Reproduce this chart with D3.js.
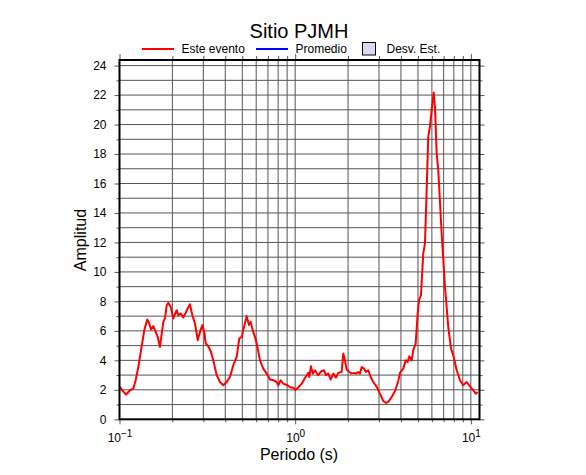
<!DOCTYPE html>
<html>
<head>
<meta charset="utf-8">
<script src="https://cdn.jsdelivr.net/npm/d3@7"></script>
<style>
  body { margin: 0; background: #fff; }
  text { font-family: "Liberation Sans", Arial, Helvetica, sans-serif; }
</style>
</head>
<body>
<svg id="chart"></svg>
<script>
var periods = [0.100,0.1037,0.1089,0.1148,0.1198,0.1236,0.128,0.1326,0.1384,0.1439,
  0.1477,0.1511,0.1557,0.1592,0.165,0.170,0.1739,0.1776,0.1816,0.1856,
  0.1896,0.1956,0.2024,0.207,0.2116,0.2161,0.223,0.2307,0.2381,0.2444,
  0.2519,0.2596,0.269,0.2787,0.2872,0.296,0.3038,0.3094,0.3202,0.3317,
  0.3419,0.3575,0.3733,0.3898,0.4075,0.4255,0.4443,0.4645,0.4806,0.496,
  0.5112,0.5297,0.5458,0.5581,0.5729,0.5905,0.6038,0.6305,0.6583,0.6883,
  0.7189,0.7507,0.7848,0.8014,0.8271,0.8558,0.9016,0.9428,0.9755,1.001,
  1.041,1.089,1.137,1.188,1.203,1.230,1.258,1.296,1.353,1.415,
  1.458,1.497,1.543,1.593,1.648,1.707,1.759,1.839,1.878,1.920,
  1.964,2.032,2.097,2.161,2.219,2.287,2.338,2.391,2.464,2.529,
  2.606,2.690,2.783,2.910,3.039,3.172,3.287,3.388,3.542,3.698,
  3.862,3.950,4.123,4.256,4.369,4.461,4.604,4.702,4.852,4.981,
  5.066,5.200,5.359,5.480,5.603,5.722,5.851,5.983,6.142,6.248,
  6.388,6.523,6.821,7.123,7.438,7.705,7.941,8.304,8.670,9.051,
  9.465,9.883,10.32,10.65,10.93];

var amplitudes = [2.24,1.97,1.68,1.97,2.08,2.65,3.55,4.69,6.05,6.77,
  6.5,6.09,6.32,6.05,5.59,4.91,5.82,6.61,6.86,7.74,
  7.9,7.63,6.84,7.13,7.4,7.07,7.18,6.91,7.22,7.52,
  7.81,7.07,6.5,5.37,5.93,6.39,5.93,5.14,4.96,4.57,
  4.0,2.99,2.53,2.31,2.53,2.87,3.67,4.23,5.48,5.59,
  6.27,7.0,6.39,6.61,6.05,5.59,5.14,4.0,3.44,3.1,
  2.7,2.65,2.53,2.31,2.65,2.42,2.31,2.15,2.15,1.97,
  2.15,2.42,2.8,3.15,2.87,3.6,3.1,3.33,2.99,3.28,
  3.33,2.99,3.1,2.7,3.1,2.83,3.15,3.21,4.46,4.0,
  3.38,3.21,3.1,3.15,3.1,3.21,3.1,3.55,3.44,3.21,
  3.33,2.87,2.53,2.2,1.74,1.24,1.11,1.18,1.51,1.9,
  2.6,3.15,3.44,4.0,3.89,4.28,4.0,4.69,5.14,7.18,
  8.08,8.42,11.26,11.94,15.56,19.18,19.86,20.99,22.17,21.22,
  18.05,16.92,12.62,8.99,6.27,4.8,4.35,3.33,2.65,2.31,
  2.53,2.24,1.97,1.74,1.86];

var xDomain = [0.1, 11.2];
var yDomain = [0, 24.38];
var xMajorExp = [-1, 0, 1];
var yMajor = [0, 2, 4, 6, 8, 10, 12, 14, 16, 18, 20, 22, 24];
var yMinor = [1, 3, 5, 7, 9, 11, 13, 15, 17, 19, 21, 23];
var legendLabels = ["Este evento", "Promedio", "Desv. Est."];

var W = 586, H = 475;
var margin = {top: 60, right: 106.5, bottom: 55.7, left: 119.5};
var width = W - margin.left - margin.right,
    height = H - margin.top - margin.bottom;

var svg = d3.select("#chart").attr("width", W).attr("height", H);
var g = svg.append("g").attr("transform", "translate(" + margin.left + "," + margin.top + ")");

var x = d3.scaleLog().domain(xDomain).range([0, width]);
var y = d3.scaleLinear().domain(yDomain).range([height, 0]);

var xMajor = xMajorExp.map(function(e) { return Math.pow(10, e); });
var xAll = x.ticks();
var xMinor = xAll.filter(function(v) { return xMajor.indexOf(v) < 0; });
var yAll = d3.range(1, 25);

// rejilla
g.append("g").selectAll("line")
  .data(xAll.filter(function(v) { return v > xDomain[0]; }))
  .enter().append("line")
    .attr("x1", function(d) { return x(d); }).attr("x2", function(d) { return x(d); })
    .attr("y1", 0).attr("y2", height)
    .attr("stroke", "#555").attr("stroke-width", 1);

g.append("g").selectAll("line")
  .data(yAll)
  .enter().append("line")
    .attr("x1", 0).attr("x2", width)
    .attr("y1", function(d) { return y(d); }).attr("y2", function(d) { return y(d); })
    .attr("stroke", "#555").attr("stroke-width", 1);

// ticks
function tickAxis(axis, transform) {
  var a = g.append("g").attr("transform", transform || null).call(axis);
  a.select(".domain").remove();
  a.selectAll(".tick line").attr("stroke", "#555");
  return a;
}
tickAxis(d3.axisBottom(x).tickValues(xMinor).tickSize(3).tickFormat(""), "translate(0," + height + ")");
var xb = tickAxis(d3.axisBottom(x).tickValues(xMajor).tickSize(5).tickFormat(""), "translate(0," + height + ")");
tickAxis(d3.axisTop(x).tickValues(xMinor).tickSize(4).tickFormat(""));
tickAxis(d3.axisTop(x).tickValues(xMajor).tickSize(6).tickFormat(""));

tickAxis(d3.axisLeft(y).tickValues(yMinor).tickSize(3).tickFormat(""));
var yl = tickAxis(d3.axisLeft(y).tickValues(yMajor).tickSize(5).tickPadding(8));
tickAxis(d3.axisRight(y).tickValues(yMinor).tickSize(3).tickFormat(""), "translate(" + width + ",0)");
tickAxis(d3.axisRight(y).tickValues(yMajor).tickSize(5).tickFormat(""), "translate(" + width + ",0)");

yl.selectAll(".tick text").attr("font-size", 12).attr("fill", "#000")
  .style("font-family", "'Liberation Sans', Arial, sans-serif");

xb.selectAll(".tick text")
  .attr("y", 22.4).attr("dy", 0).attr("font-size", 12).attr("fill", "#000")
  .style("font-family", "'Liberation Sans', Arial, sans-serif")
  .each(function(d, i) {
    var t = d3.select(this).text(null);
    t.append("tspan").text("10");
    t.append("tspan").attr("dy", -4.5).attr("font-size", 10)
      .text(xMajorExp[i] < 0 ? "\u2212" + Math.abs(xMajorExp[i]) : xMajorExp[i]);
  });

// curva
var pts = periods.map(function(p, i) { return [p, amplitudes[i]]; });
var line = d3.line()
  .x(function(d) { return x(d[0]); })
  .y(function(d) { return y(d[1]); });

g.append("path")
  .datum(pts)
  .attr("d", line)
  .attr("fill", "none")
  .attr("stroke", "#ff0000")
  .attr("stroke-width", 2)
  .attr("stroke-linejoin", "round");

// marco
g.append("rect")
  .attr("width", width).attr("height", height)
  .attr("fill", "none").attr("stroke", "#000").attr("stroke-width", 2);

// titulos
svg.append("text")
  .attr("x", 299).attr("y", 38)
  .attr("text-anchor", "middle").attr("font-size", 20)
  .text("Sitio PJMH");

svg.append("text")
  .attr("x", 299).attr("y", 460)
  .attr("text-anchor", "middle").attr("font-size", 16)
  .text("Periodo (s)");

svg.append("text")
  .attr("transform", "translate(86,240) rotate(-90)")
  .attr("text-anchor", "middle").attr("font-size", 16)
  .text("Amplitud");

// leyenda
var lg = svg.append("g").attr("font-size", 12);
lg.append("line").attr("x1", 142).attr("x2", 174).attr("y1", 49).attr("y2", 49)
  .attr("stroke", "#ff0000").attr("stroke-width", 2);
lg.append("text").attr("x", 181.5).attr("y", 53).text(legendLabels[0]);
lg.append("line").attr("x1", 256).attr("x2", 288).attr("y1", 49).attr("y2", 49)
  .attr("stroke", "#0000ff").attr("stroke-width", 2);
lg.append("text").attr("x", 295.5).attr("y", 53).text(legendLabels[1]);
lg.append("rect").attr("x", 362.5).attr("y", 42.5).attr("width", 13).attr("height", 12.5)
  .attr("fill", "#d9d9f7").attr("stroke", "#000").attr("stroke-width", 1);
lg.append("text").attr("x", 386.5).attr("y", 53).text(legendLabels[2]);
</script>
</body>
</html>
